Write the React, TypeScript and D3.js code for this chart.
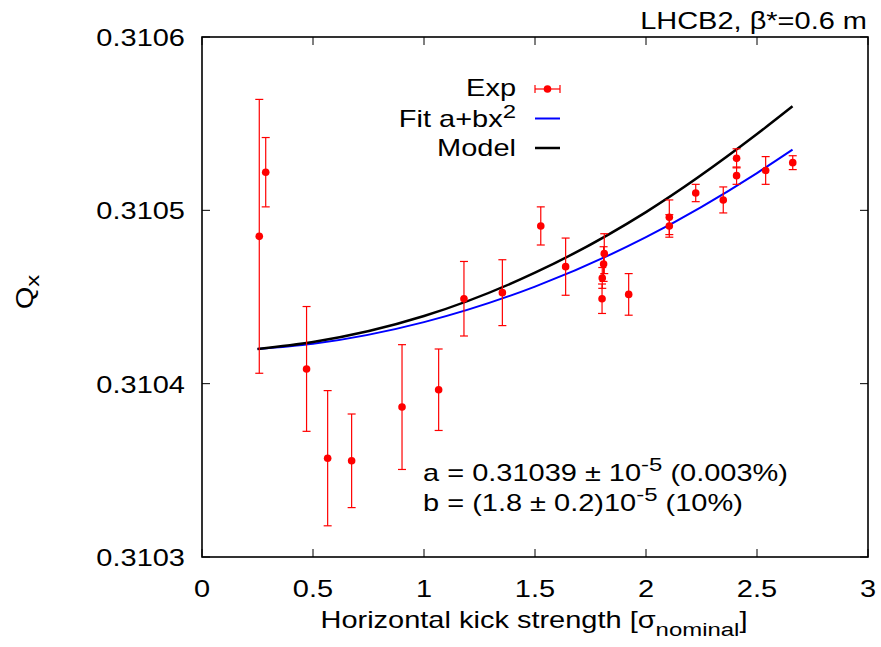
import React from "react";
import * as d3 from "d3";

const expX = [0.258, 0.287, 0.471, 0.566, 0.674, 0.901, 1.066, 1.18, 1.353, 1.526, 1.638, 1.812, 1.809, 1.803, 1.802, 1.922, 2.105, 2.105, 2.224, 2.348, 2.408, 2.408, 2.539, 2.661];
const expY = [0.310485, 0.310522, 0.3104085, 0.310357, 0.3103555, 0.3103865, 0.3103965, 0.310449, 0.3104525, 0.310491, 0.3104675, 0.310475, 0.310469, 0.310461, 0.310449, 0.3104515, 0.310496, 0.310491, 0.31051, 0.310506, 0.31053, 0.31052, 0.310523, 0.3105275];
const expErr = [7.9, 2.0, 3.6, 3.9, 2.7, 3.6, 2.35, 2.15, 1.9, 1.1, 1.65, 1.15, 1.0, 0.6, 0.85, 1.2, 1.0, 0.65, 0.5, 0.75, 0.55, 0.5, 0.8, 0.4];

const curveX = [0.25, 0.5, 1.0, 1.5, 2.0, 2.5, 2.66];
const fitY = [0.31042, 0.310423, 0.3104355, 0.310456, 0.3104845, 0.3105215, 0.310535];
const modelY = [0.31042, 0.310424, 0.310439, 0.310464, 0.310499, 0.310544, 0.31056];

const xTicks = [0, 0.5, 1, 1.5, 2, 2.5, 3];
const yTicks = [0.3103, 0.3104, 0.3105, 0.3106];

const W = 881, H = 647;
const L = 202, R = 868, T = 37, B = 557;
const SX = 1.26;
const FS = 23;
const FONT = "'Liberation Sans', Arial, sans-serif";

function Txt({ x, y, anchor = "start", children, size = FS }: any) {
  return (
    <text transform={`translate(${x},${y}) scale(${SX},1)`} textAnchor={anchor} fontSize={size} fontFamily={FONT} fill="#000">
      {children}
    </text>
  );
}

export default function App() {
  const x = d3.scaleLinear().domain([0, 3]).range([L, R]);
  const y = d3.scaleLinear().domain([0.3103, 0.3106]).range([B, T]);
  const line = d3.line<number>().x((_, i) => x(curveX[i])).y((d) => y(d)).curve(d3.curveMonotoneX);
  const tick = 8;
  const cap = 4;
  const red = "#ff0000";
  return (
    <svg width={W} height={H} style={{ position: "absolute", left: 0, top: 0 }}>
      <rect width={W} height={H} fill="#fff" />
      {xTicks.map((t) => (
        <g key={"xt" + t}>
          <line x1={x(t)} x2={x(t)} y1={B} y2={B - tick} stroke="#000" strokeWidth={1} />
          <line x1={x(t)} x2={x(t)} y1={T} y2={T + tick} stroke="#000" strokeWidth={1} />
          <Txt x={x(t)} y={597} anchor="middle">{String(t)}</Txt>
        </g>
      ))}
      {yTicks.map((t) => (
        <g key={"yt" + t}>
          <line x1={L} x2={L + tick} y1={y(t)} y2={y(t)} stroke="#000" strokeWidth={1} />
          <line x1={R} x2={R - tick} y1={y(t)} y2={y(t)} stroke="#000" strokeWidth={1} />
          <Txt x={185} y={y(t) + 9} anchor="end">{d3.format(".4f")(t)}</Txt>
        </g>
      ))}
      <path d={line(fitY) || ""} fill="none" stroke="#0000ff" strokeWidth={2} />
      <path d={line(modelY) || ""} fill="none" stroke="#000" strokeWidth={2.5} />
      {expX.map((xv, i) => {
        const cx = x(xv);
        const e = expErr[i] * 1e-5;
        const y1 = y(expY[i] + e), y2 = y(expY[i] - e);
        return (
          <g key={"p" + i} stroke={red} strokeWidth={1.2}>
            <line x1={cx} x2={cx} y1={y1} y2={y2} />
            <line x1={cx - cap} x2={cx + cap} y1={y1} y2={y1} />
            <line x1={cx - cap} x2={cx + cap} y1={y2} y2={y2} />
            <circle cx={cx} cy={y(expY[i])} r={3.8} fill={red} stroke="none" />
          </g>
        );
      })}
      <rect x={L} y={T} width={R - L} height={B - T} fill="none" stroke="#000" strokeWidth={1.6} />
      <Txt x={516} y={96} anchor="end">Exp</Txt>
      <g stroke={red} strokeWidth={1.2}>
        <line x1={535} x2={560} y1={89} y2={89} />
        <line x1={535} x2={535} y1={85} y2={93} />
        <line x1={560} x2={560} y1={85} y2={93} />
        <circle cx={547.5} cy={89} r={3.8} fill={red} stroke="none" />
      </g>
      <Txt x={516} y={127} anchor="end">
        Fit a+bx<tspan dy={-9} fontSize={19}>2</tspan>
      </Txt>
      <line x1={535} x2={560} y1={118.5} y2={118.5} stroke="#0000ff" strokeWidth={2} />
      <Txt x={516} y={156} anchor="end">Model</Txt>
      <line x1={535} x2={560} y1={148} y2={148} stroke="#000" strokeWidth={2.5} />
      <Txt x={423} y={481}>
        a = 0.31039 ± 10<tspan dy={-10} fontSize={19}>-5</tspan><tspan dy={10}> (0.003%)</tspan>
      </Txt>
      <Txt x={423} y={511}>
        b = (1.8 ± 0.2)10<tspan dy={-10} fontSize={19}>-5</tspan><tspan dy={10}> (10%)</tspan>
      </Txt>
      <Txt x={867} y={29} anchor="end">LHCB2, β*=0.6 m</Txt>
      <Txt x={534} y={628} anchor="middle">
        Horizontal kick strength [σ<tspan dy={8} fontSize={19}>nominal</tspan><tspan dy={-8}>]</tspan>
      </Txt>
      <g transform="translate(33,292) rotate(-90)">
        <text textAnchor="middle" fontSize={FS} fontFamily={FONT} transform={`scale(${SX},1)`}>
          Q<tspan dy={6} fontSize={19}>x</tspan>
        </text>
      </g>
    </svg>
  );
}
